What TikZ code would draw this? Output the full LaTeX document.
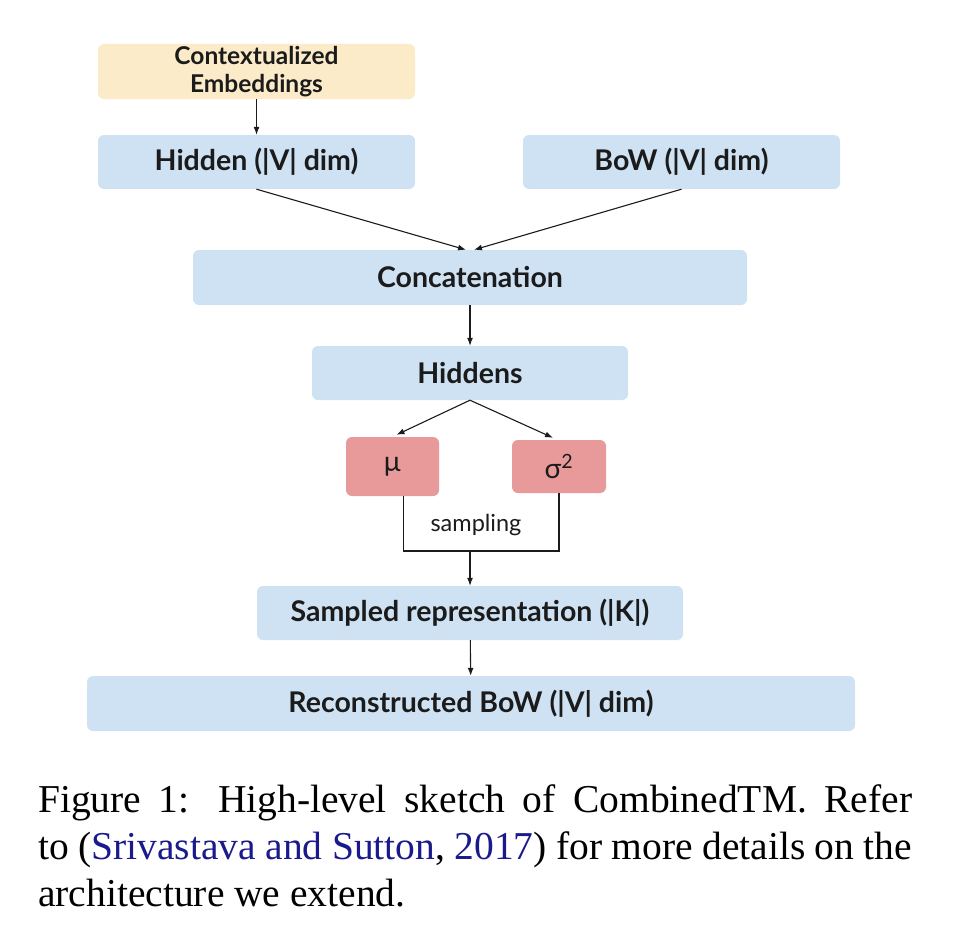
\documentclass[tikz,border=0pt]{standalone}
\usepackage{fontspec}
\setmainfont{Liberation Serif}
\newfontfamily\diagfont{Lato}
\usepackage{xcolor}
\usepackage{tikz}
\usetikzlibrary{arrows.meta, positioning, calc}
\definecolor{paleblue}{HTML}{CFE2F3}
\definecolor{paleyellow}{HTML}{FCEBC8}
\definecolor{palered}{HTML}{E89999}
\definecolor{inkblack}{HTML}{1B1B1B}
\definecolor{citeblue}{HTML}{1A1A8C}

\begin{document}
\begin{tikzpicture}[
    x=1pt, y=-1pt,
    box/.style={rectangle, rounded corners=6pt, fill=paleblue, text=inkblack, align=center,
                inner sep=0pt, minimum height=54pt,
                font=\diagfont\bfseries\fontsize{28.5}{32}\selectfont},
    embedbox/.style={box, fill=paleyellow, font=\diagfont\bfseries\fontsize{24.5}{28}\selectfont},
    parambox/.style={box, fill=palered, font=\diagfont\fontsize{28}{30}\selectfont},
    arrow/.style={-{Latex[length=8pt, width=6pt]}, line width=1.1pt, draw=inkblack},
    plain/.style={line width=1.1pt, draw=inkblack},
    samplabel/.style={font=\diagfont\fontsize{23.5}{26}\selectfont, text=inkblack, inner sep=0pt},
    caption/.style={font=\fontsize{39.5}{47}\selectfont, text width=874pt, align=justify, inner sep=0pt}
  ]
    \useasboundingbox (0,0) rectangle (963,934);

    \node[embedbox, minimum width=317pt, minimum height=55pt] (embed) at (256.5,71.5) {Contextualized\\Embeddings};
    \node[box, minimum width=317pt]  (hidden)  at (256.5,162) {Hidden (|V| dim)};
    \node[box, minimum width=317pt]  (bow)     at (681.5,162) {BoW (|V| dim)};
    \node[box, minimum width=554pt, minimum height=55pt] (concat) at (470,277.5) {Concatenation};
    \node[box, minimum width=316pt]  (hiddens) at (470,373)   {Hiddens};
    \node[parambox, minimum width=93pt, minimum height=59pt] (mu)    at (392.5,466.5) {µ};
    \node[parambox, minimum width=94pt, minimum height=53pt] (sigma) at (559,466.5)   {σ\textsuperscript{2}};
    \node[box, minimum width=426pt]  (sampled) at (470,613)   {Sampled representation (|K|)};
    \node[box, minimum width=768pt, minimum height=55pt] (recon) at (471,703.5) {Reconstructed BoW (|V| dim)};

    \node[samplabel] (samp) at (476,525) {sampling};
    \coordinate (merge) at (470,551);

    \draw[arrow] (embed) -- (hidden);
    \draw[arrow] (hidden.south) -- ($(concat.north)+(-4,0)$);
    \draw[arrow] (bow.south) -- ($(concat.north)+(4,0)$);
    \draw[arrow] (concat) -- (hiddens);
    \draw[arrow] (hiddens.south) -- ($(mu.north)+(4,-2)$);
    \draw[arrow] (hiddens.south) -- ($(sigma.north)+(-6,-2)$);
    \draw[plain] ($(mu.south)+(11,0)$) |- (merge) -| (sigma.south);
    \draw[arrow] (merge) -- (sampled);
    \draw[arrow] (sampled) -- (recon);

    \node[caption, anchor=north west] (cap) at (38,784)
      {Figure~1: High-level sketch of CombinedTM. Refer\linebreak
       to (\textcolor{citeblue}{Srivastava and Sutton}, \textcolor{citeblue}{2017}) for more details on the\linebreak
       architecture we extend.};
\end{tikzpicture}
\end{document}
